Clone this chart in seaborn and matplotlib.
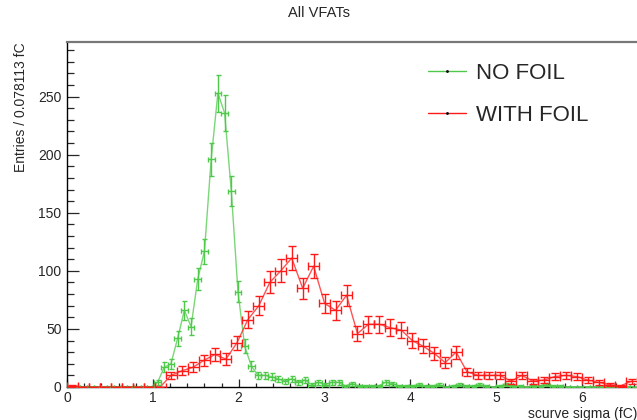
import numpy as np
import pandas as pd
import matplotlib
matplotlib.use("Agg")
import matplotlib.pyplot as plt
import seaborn as sns
from matplotlib.ticker import MultipleLocator

# Histogram contents
x_max = 6.64
green_bin_width = 0.078113
no_foil_counts = [0] * 13 + [
    4, 17, 20, 42, 66, 52, 93, 117, 196, 253, 236, 169, 82, 35, 18, 10, 10, 9,
    7, 5, 7, 4, 6, 2, 4, 2, 4, 4, 1, 3, 1, 1, 1, 1, 4, 3, 1, 1,
    1, 2, 1, 1, 2, 0, 1, 2, 1, 1, 2, 1, 0, 1, 2, 1, 1, 0, 1, 1, 2, 1, 1,
] + [0] * 11

red_nbins = 52
with_foil_counts = [1] + [0] * 8 + [
    10, 14, 17, 23, 28, 24, 38, 58, 70, 90, 100, 111, 85, 104, 72, 66, 79,
    46, 54, 54, 51, 49, 40, 35, 29, 21, 30, 13, 10, 10, 10, 5, 10, 5, 6, 9,
    10, 9, 6, 4, 2, 1, 5,
]

labels = ["NO FOIL", "WITH FOIL"]
title = "All VFATs"
xlabel = "scurve sigma (fC)"
ylabel = "Entries / 0.078113 fC"

sns.set_style("white")
plt.rcParams["font.family"] = ["Liberation Sans", "DejaVu Sans"]

green = "#4fc94a"
red = "#ff1a1a"

fig = plt.figure(figsize=(6.37, 4.2), dpi=100)
ax = fig.add_axes([67 / 637, 1 - 387 / 420, 570 / 637, 345 / 420])

series = [
    (no_foil_counts, green_bin_width, green, 1.8, labels[0]),
    (with_foil_counts, x_max / red_nbins, red, 2.6, labels[1]),
]
handles = []
for counts, bw, col, cap, lab in series:
    counts = np.array(counts, dtype=float)
    centers = (np.arange(len(counts)) + 0.5) * bw
    df = pd.DataFrame({"x": centers, "y": counts})
    sns.lineplot(data=df, x="x", y="y", ax=ax, color=col, lw=1.0, alpha=0.75,
                 label=None, legend=False)
    ax.errorbar(df["x"], df["y"], xerr=bw / 2, yerr=np.sqrt(counts),
                fmt="none", ecolor=col, elinewidth=1.0, capsize=cap,
                capthick=1.0, zorder=3)
    h, = ax.plot([], [], color=col, lw=1.0, marker=".", markersize=2,
                 markerfacecolor="black", markeredgecolor="black")
    handles.append(h)

ax.set_xlim(0, x_max)
ax.set_ylim(0, 297)
ax.xaxis.set_major_locator(MultipleLocator(1))
ax.xaxis.set_minor_locator(MultipleLocator(0.2))
ax.yaxis.set_major_locator(MultipleLocator(50))
ax.yaxis.set_minor_locator(MultipleLocator(10))
ax.tick_params(axis="y", which="major", direction="in", length=8.5, width=0.9,
               labelsize=10, pad=4, left=True)
ax.tick_params(axis="y", which="minor", direction="in", length=5, width=0.9,
               left=True)
ax.tick_params(axis="x", which="major", direction="in", length=5.5, width=0.9,
               labelsize=10, pad=3, bottom=True)
ax.tick_params(axis="x", which="minor", direction="in", length=3, width=0.9,
               bottom=True)

for s in ["left", "bottom"]:
    ax.spines[s].set_color("black")
    ax.spines[s].set_linewidth(1.0)
ax.spines["right"].set_visible(False)
ax.spines["top"].set_color("#777777")
ax.spines["top"].set_linewidth(1.6)

ax.set_xlabel(xlabel, loc="right", fontsize=10, labelpad=1)
ax.set_ylabel(ylabel, loc="top", fontsize=10, labelpad=7)
fig.text(0.5, 1 - 13 / 420, title, ha="center", va="center", fontsize=10.5)

ax.legend(handles, labels, loc="upper left", bbox_to_anchor=(428 / 637, 1 - 63 / 420),
          bbox_transform=fig.transFigure, frameon=False, fontsize=16,
          handlelength=1.7, handletextpad=0.45, labelspacing=0.95,
          borderaxespad=0, borderpad=0)

fig.savefig("out.png", dpi=100)
